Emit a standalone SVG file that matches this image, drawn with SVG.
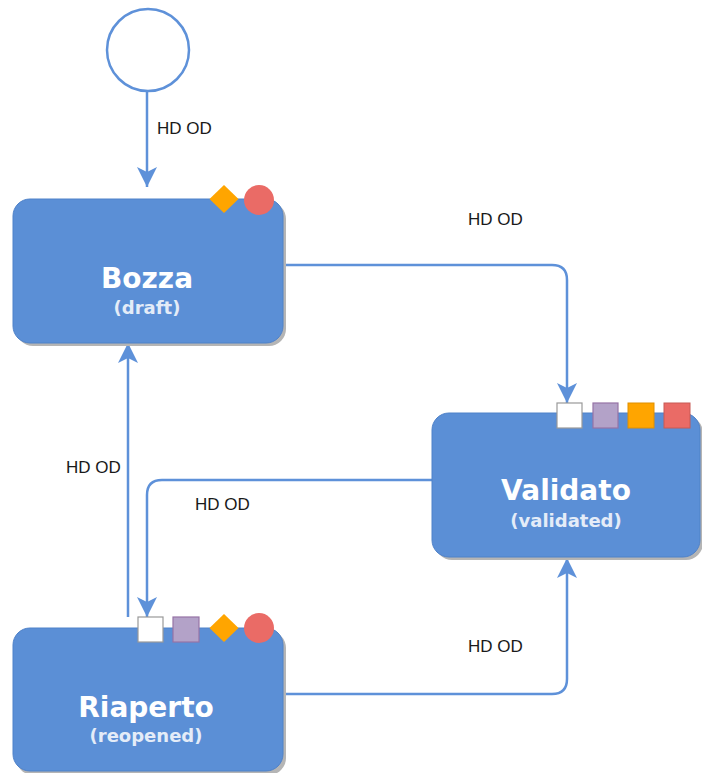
<svg xmlns="http://www.w3.org/2000/svg" width="702" height="773" viewBox="0 0 702 773">
<defs>
<style>
.box{fill:#5b8fd6;stroke:#4f82c9;stroke-width:1}
.shadow{fill:#b5b5b5}
.title{font-family:"DejaVu Sans",Verdana,sans-serif;font-weight:bold;font-size:28px;fill:#ffffff;text-anchor:middle}
.sub{font-family:"DejaVu Sans",Verdana,sans-serif;font-weight:bold;font-size:18px;fill:#e4ecf8;text-anchor:middle}
.lbl{font-family:"Liberation Sans",Arial,sans-serif;font-size:17px;fill:#1a1a1a}
.edge{fill:none;stroke:#5e91d9;stroke-width:2.5}
.wsq{fill:#ffffff;stroke:#999999;stroke-width:1.2}
.psq{fill:#b3a2c8;stroke:#9673a6;stroke-width:1.2}
.osq{fill:#ffa500;stroke:#e09000;stroke-width:1}
.rsq{fill:#ea6b66;stroke:#c85a55;stroke-width:1}
.dia{fill:#ffa500}
.dot{fill:#ea6b66}
</style>
<marker id="arr" viewBox="0 0 20 20" refX="20" refY="10" markerWidth="20" markerHeight="20" markerUnits="userSpaceOnUse" orient="auto">
<path d="M0,0 L20,10 L0,20 L5,10 Z" fill="#5e91d9"/>
</marker>
</defs>
<rect width="702" height="773" fill="#ffffff"/>

<g id="connectors">
<path class="edge" d="M147,92 L147,187" marker-end="url(#arr)"/>
<path class="edge" d="M283,265 L552,265 Q567,265 567,280 L567,403" marker-end="url(#arr)"/>
<path class="edge" d="M128,617 L128,343" marker-end="url(#arr)"/>
<path class="edge" d="M432,480 L162,480 Q147,480 147,495 L147,617" marker-end="url(#arr)"/>
<path class="edge" d="M283,694 L552,694 Q567,694 567,679 L567,558" marker-end="url(#arr)"/>
<text class="lbl" x="157" y="134">HD OD</text>
<text class="lbl" x="468" y="225">HD OD</text>
<text class="lbl" x="66" y="473">HD OD</text>
<text class="lbl" x="195" y="510">HD OD</text>
<text class="lbl" x="468" y="652">HD OD</text>
</g>

<g id="start">
<circle cx="148" cy="50" r="41" fill="#ffffff" stroke="#5e91d9" stroke-width="2.5"/>
</g>

<g id="bozza">
<rect class="shadow" x="16" y="202" width="270" height="144" rx="17"/>
<rect class="box" x="13" y="199" width="270" height="144" rx="17"/>
<text class="title" x="147" y="288">Bozza</text>
<text class="sub" x="147" y="314">(draft)</text>
<path class="dia" d="M224,185 L238.5,199 L224,213 L209.5,199 Z"/>
<circle class="dot" cx="259" cy="200" r="15"/>
</g>

<g id="validato">
<rect class="shadow" x="435" y="416" width="268" height="144" rx="17"/>
<rect class="box" x="432" y="413" width="268" height="144" rx="17"/>
<text class="title" x="566" y="500">Validato</text>
<text class="sub" x="566" y="527">(validated)</text>
<rect class="wsq" x="557" y="403" width="25" height="25"/>
<rect class="psq" x="593" y="403" width="25" height="25"/>
<rect class="osq" x="628" y="403" width="26" height="25"/>
<rect class="rsq" x="664" y="403" width="26" height="25"/>
</g>

<g id="riaperto">
<rect class="shadow" x="16" y="631" width="270" height="144" rx="17"/>
<rect class="box" x="13" y="628" width="270" height="143" rx="17"/>
<text class="title" x="146" y="717">Riaperto</text>
<text class="sub" x="146" y="742">(reopened)</text>
<rect class="wsq" x="138" y="617" width="25" height="25"/>
<rect class="psq" x="173" y="617" width="26" height="25"/>
<path class="dia" d="M224,614 L238.5,628 L224,642 L209.5,628 Z"/>
<circle class="dot" cx="259" cy="628" r="15"/>
</g>
</svg>
